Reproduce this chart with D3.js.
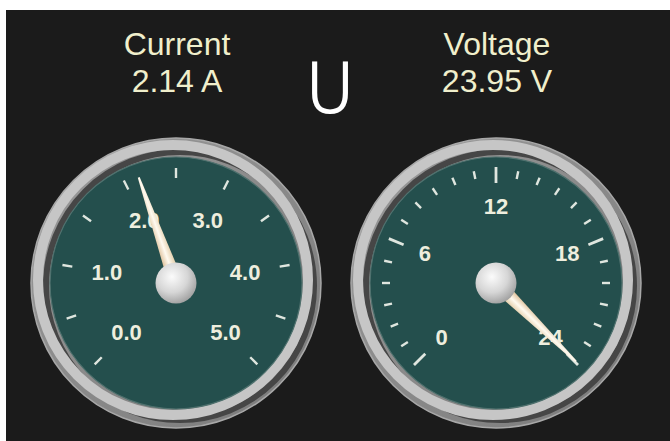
<!DOCTYPE html>
<html>
<head>
<meta charset="utf-8">
<script src="https://cdn.jsdelivr.net/npm/d3@7"></script>
<style>
  html, body { margin: 0; padding: 0; background: #ffffff; }
  svg { display: block; }
</style>
</head>
<body>
<svg id="chart" width="670" height="441"></svg>
<script>
// ---- data ----
const gaugeNames = ["Current", "Voltage"];
const gaugeValues = [2.14, 23.95];
const gaugeUnits = ["A", "V"];
const gaugeMin = [0, 0];
const gaugeMax = [5, 24];
const tickStep = [0.5, 1];
const currentLabels = [0, 1, 2, 3, 4, 5];
const voltageLabels = [0, 6, 12, 18, 24];
const labelFormats = [d3.format(".1f"), d3.format("d")];
const labelSets = [currentLabels, voltageLabels];
const majorEvery = [null, 6];
const symbolText = "U";

// ---- layout ----
const W = 670, H = 441;
const svg = d3.select("#chart");
svg.append("rect").attr("x", 0).attr("y", 0).attr("width", W).attr("height", H).attr("fill", "#ffffff");
svg.append("rect").attr("x", 6).attr("y", 10).attr("width", W - 6).attr("height", H - 10).attr("fill", "#1b1b1b");

const defs = svg.append("defs");
const hubGrad = defs.append("radialGradient").attr("id", "hubGrad")
  .attr("cx", "40%").attr("cy", "35%").attr("r", "70%");
hubGrad.append("stop").attr("offset", "0%").attr("stop-color", "#fbfbfb");
hubGrad.append("stop").attr("offset", "55%").attr("stop-color", "#d6d6d6");
hubGrad.append("stop").attr("offset", "100%").attr("stop-color", "#9c9c9c");

const bezelGrad = defs.append("linearGradient").attr("id", "bezelGrad")
  .attr("x1", "0").attr("y1", "0").attr("x2", "1").attr("y2", "1");
bezelGrad.append("stop").attr("offset", "0%").attr("stop-color", "#9a9a9a");
bezelGrad.append("stop").attr("offset", "100%").attr("stop-color", "#7a7a7a");

const needleGrad = defs.append("linearGradient").attr("id", "needleGrad")
  .attr("x1", "0").attr("y1", "0").attr("x2", "1").attr("y2", "0");
needleGrad.append("stop").attr("offset", "0%").attr("stop-color", "#d9b98f");
needleGrad.append("stop").attr("offset", "50%").attr("stop-color", "#fffaf0");
needleGrad.append("stop").attr("offset", "100%").attr("stop-color", "#e0c8a0");

const centersX = [176, 496];
const cy = 283;
const textColor = "#f0efcc";

function pt(cx, cy, r, deg) {
  const a = deg * Math.PI / 180;
  return [cx + r * Math.sin(a), cy - r * Math.cos(a)];
}

gaugeNames.forEach((name, i) => {
  const cx = centersX[i];
  const scale = d3.scaleLinear().domain([gaugeMin[i], gaugeMax[i]]).range([-135, 135]);

  // header text
  svg.append("text").attr("x", cx + 1).attr("y", 55)
    .attr("text-anchor", "middle")
    .attr("font-family", "Liberation Sans, Arial, sans-serif")
    .attr("font-size", 32).attr("fill", textColor).text(name);
  svg.append("text").attr("x", cx + 1).attr("y", 92)
    .attr("text-anchor", "middle")
    .attr("font-family", "Liberation Sans, Arial, sans-serif")
    .attr("font-size", 32).attr("fill", textColor)
    .text(d3.format(".2f")(gaugeValues[i]) + " " + gaugeUnits[i]);

  const g = svg.append("g");
  // bezel
  g.append("circle").attr("cx", cx).attr("cy", cy).attr("r", 145)
    .attr("fill", "url(#bezelGrad)").attr("stroke", "#a8a8a8").attr("stroke-width", 1.5);
  g.append("circle").attr("cx", cx + 4).attr("cy", cy + 3).attr("r", 134)
    .attr("fill", "none").attr("stroke", "#464646").attr("stroke-width", 6);
  g.append("circle").attr("cx", cx - 3).attr("cy", cy - 3).attr("r", 135)
    .attr("fill", "none").attr("stroke", "#c6c6c6").attr("stroke-width", 10);
  // face
  g.append("circle").attr("cx", cx).attr("cy", cy).attr("r", 126)
    .attr("fill", "#244f4d").attr("stroke", "#4f716e").attr("stroke-width", 1.2);

  // ticks
  const ticks = d3.range(gaugeMin[i], gaugeMax[i] + tickStep[i] / 2, tickStep[i]);
  ticks.forEach(v => {
    const major = majorEvery[i] !== null && Math.abs(v % majorEvery[i]) < 1e-9;
    const r1 = major ? 100 : (i === 0 ? 105 : 106);
    const r2 = major ? 116 : (i === 0 ? 115 : 114);
    const p1 = pt(cx, cy, r1, scale(v));
    const p2 = pt(cx, cy, r2, scale(v));
    g.append("line").attr("x1", p1[0]).attr("y1", p1[1]).attr("x2", p2[0]).attr("y2", p2[1])
      .attr("stroke", "#dfe6df").attr("stroke-width", major ? 2.8 : 2.4).attr("stroke-linecap", "butt");
  });

  // labels
  const lr = i === 0 ? 70 : 77;
  labelSets[i].forEach(v => {
    const p = pt(cx, cy, lr, scale(v));
    g.append("text").attr("x", p[0]).attr("y", p[1])
      .attr("text-anchor", "middle").attr("dominant-baseline", "central")
      .attr("font-family", "Liberation Sans, Arial, sans-serif")
      .attr("font-weight", "bold").attr("font-size", 22)
      .attr("fill", "#eeeede").text(labelFormats[i](v));
  });

  // needle
  const ang = scale(gaugeValues[i]);
  const L = 112, hw0 = 7.5, hw1 = 1;
  const needle = g.append("g").attr("transform", `translate(${cx},${cy}) rotate(${ang})`);
  needle.append("path")
    .attr("d", `M${-hw0},0 L${-hw1},${-L} L${hw1},${-L} L${hw0},0 Z`)
    .attr("fill", "url(#needleGrad)");

  // hub
  g.append("circle").attr("cx", cx).attr("cy", cy).attr("r", 20.5)
    .attr("fill", "url(#hubGrad)");
});

// center symbol
svg.append("text").attr("x", 330).attr("y", 112)
  .attr("text-anchor", "middle")
  .attr("font-family", "DejaVu Sans, sans-serif")
  .attr("font-weight", 200)
  .attr("font-size", 67).attr("fill", "#ffffff")
  .attr("stroke", "#ffffff").attr("stroke-width", 1.8)
  .text(symbolText);
</script>
</body>
</html>
